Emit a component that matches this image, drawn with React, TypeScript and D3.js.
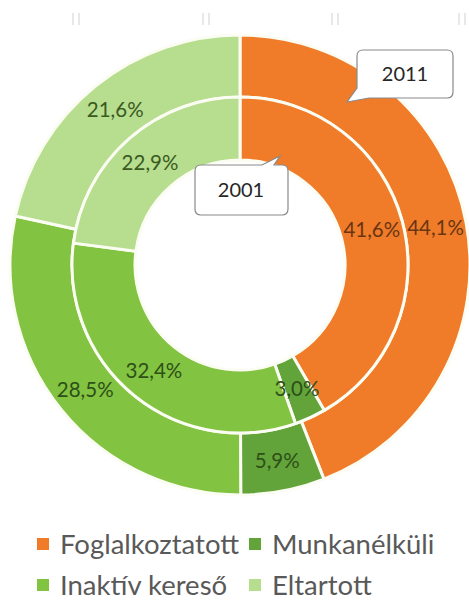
import React from 'react';
import * as d3 from 'd3';

const categories = ['Foglalkoztatott', 'Munkanélküli', 'Inaktív kereső', 'Eltartott'];
const values2011 = [44.1, 5.9, 28.5, 21.6];
const values2001 = [41.6, 3.0, 32.4, 22.9];
const ringLabels = ['2011', '2001'];

const colors = ['#F07C2A', '#62A43A', '#82C341', '#B7DD8F'];
const labelColors = ['#6A3512', '#2E4F18', '#2E4F18', '#3A5A1E'];

const W = 469;
const H = 605;
const cx = 240;
const cy = 265;

const fmt = (v: number) => v.toFixed(1).replace('.', ',') + '%';

// rounded callout box with a wedge; tail given as [base1, tip, base2] points on the path
function calloutPath(x0: number, y0: number, x1: number, y1: number, r: number, side: 'top' | 'bottomLeft', tail: number[][]) {
  const p = d3.path();
  p.moveTo(x0 + r, y0);
  if (side === 'top') {
    p.lineTo(tail[0][0], y0);
    p.lineTo(tail[1][0], tail[1][1]);
    p.lineTo(tail[2][0], y0);
  }
  p.lineTo(x1 - r, y0);
  p.quadraticCurveTo(x1, y0, x1, y0 + r);
  p.lineTo(x1, y1 - r);
  p.quadraticCurveTo(x1, y1, x1 - r, y1);
  if (side === 'bottomLeft') {
    p.lineTo(tail[0][0], y1);
    p.lineTo(tail[1][0], tail[1][1]);
    p.lineTo(x0, tail[2][1]);
  } else {
    p.lineTo(x0 + r, y1);
    p.quadraticCurveTo(x0, y1, x0, y1 - r);
  }
  p.lineTo(x0, y0 + r);
  p.quadraticCurveTo(x0, y0, x0 + r, y0);
  p.closePath();
  return p.toString();
}

const App: React.FC = () => {
  const pie = d3.pie<number>().sort(null).value(d => d);
  const rings = [
    { data: values2011, inner: 168, outer: 230 },
    { data: values2001, inner: 105, outer: 168 },
  ];
  const font = 'Lato, "Open Sans", sans-serif';

  return (
    <svg width={W} height={H} style={{ position: 'absolute', left: 0, top: 0, background: '#fff' }}>
      {/* faint marks at top edge */}
      {[76, 206, 335, 462].map((x, i) => (
        <g key={i} stroke="#e0e0e0" strokeWidth={1.5}>
          <line x1={x - 3} x2={x - 3} y1={13} y2={25} />
          <line x1={x + 3} x2={x + 3} y1={13} y2={25} />
        </g>
      ))}
      <g transform={`translate(${cx},${cy})`}>
        {rings.map((ring, ri) => {
          const arc = d3.arc<d3.PieArcDatum<number>>().innerRadius(ring.inner).outerRadius(ring.outer);
          const arcs = pie(ring.data);
          return (
            <g key={ri}>
              {arcs.map((a, i) => (
                <path key={i} d={arc(a) || ''} fill={colors[i]} stroke="#fbfdf3" strokeWidth={3} strokeLinejoin="round" />
              ))}
              {arcs.map((a, i) => {
                const [x, y] = arc.centroid(a);
                return (
                  <text key={'t' + i} x={x} y={y} dy="0.35em" textAnchor="middle" fontFamily={font}
                    fontSize={20.5} fill={labelColors[i]}>
                    {fmt(ring.data[i])}
                  </text>
                );
              })}
            </g>
          );
        })}
      </g>
      {/* callouts */}
      <path d={calloutPath(357, 50, 453, 98, 6, 'bottomLeft', [[369, 98], [347, 102], [357, 88]])}
        fill="#fff" stroke="#8a8a8a" strokeWidth={1.2} />
      <text x={405} y={74} dy="0.35em" textAnchor="middle" fontFamily={font} fontSize={20} fill="#262626">{ringLabels[0]}</text>
      <path d={calloutPath(195, 165, 288, 215, 6, 'top', [[262, 165], [280, 156], [274, 165]])}
        fill="#fff" stroke="#8a8a8a" strokeWidth={1.2} />
      <text x={241} y={190} dy="0.35em" textAnchor="middle" fontFamily={font} fontSize={20} fill="#262626">{ringLabels[1]}</text>
      {/* legend */}
      {categories.map((c, i) => {
        const col = i % 2;
        const row = Math.floor(i / 2);
        const x = col === 0 ? 37 : 249;
        const y = row === 0 ? 544 : 585;
        return (
          <g key={c}>
            <rect x={x} y={y - 6} width={12} height={12} fill={colors[i]} />
            <text x={x + 23} y={y} dy="0.35em" fontFamily={font} fontSize={27.5} fill="#595959">{c}</text>
          </g>
        );
      })}
    </svg>
  );
};

export default App;
